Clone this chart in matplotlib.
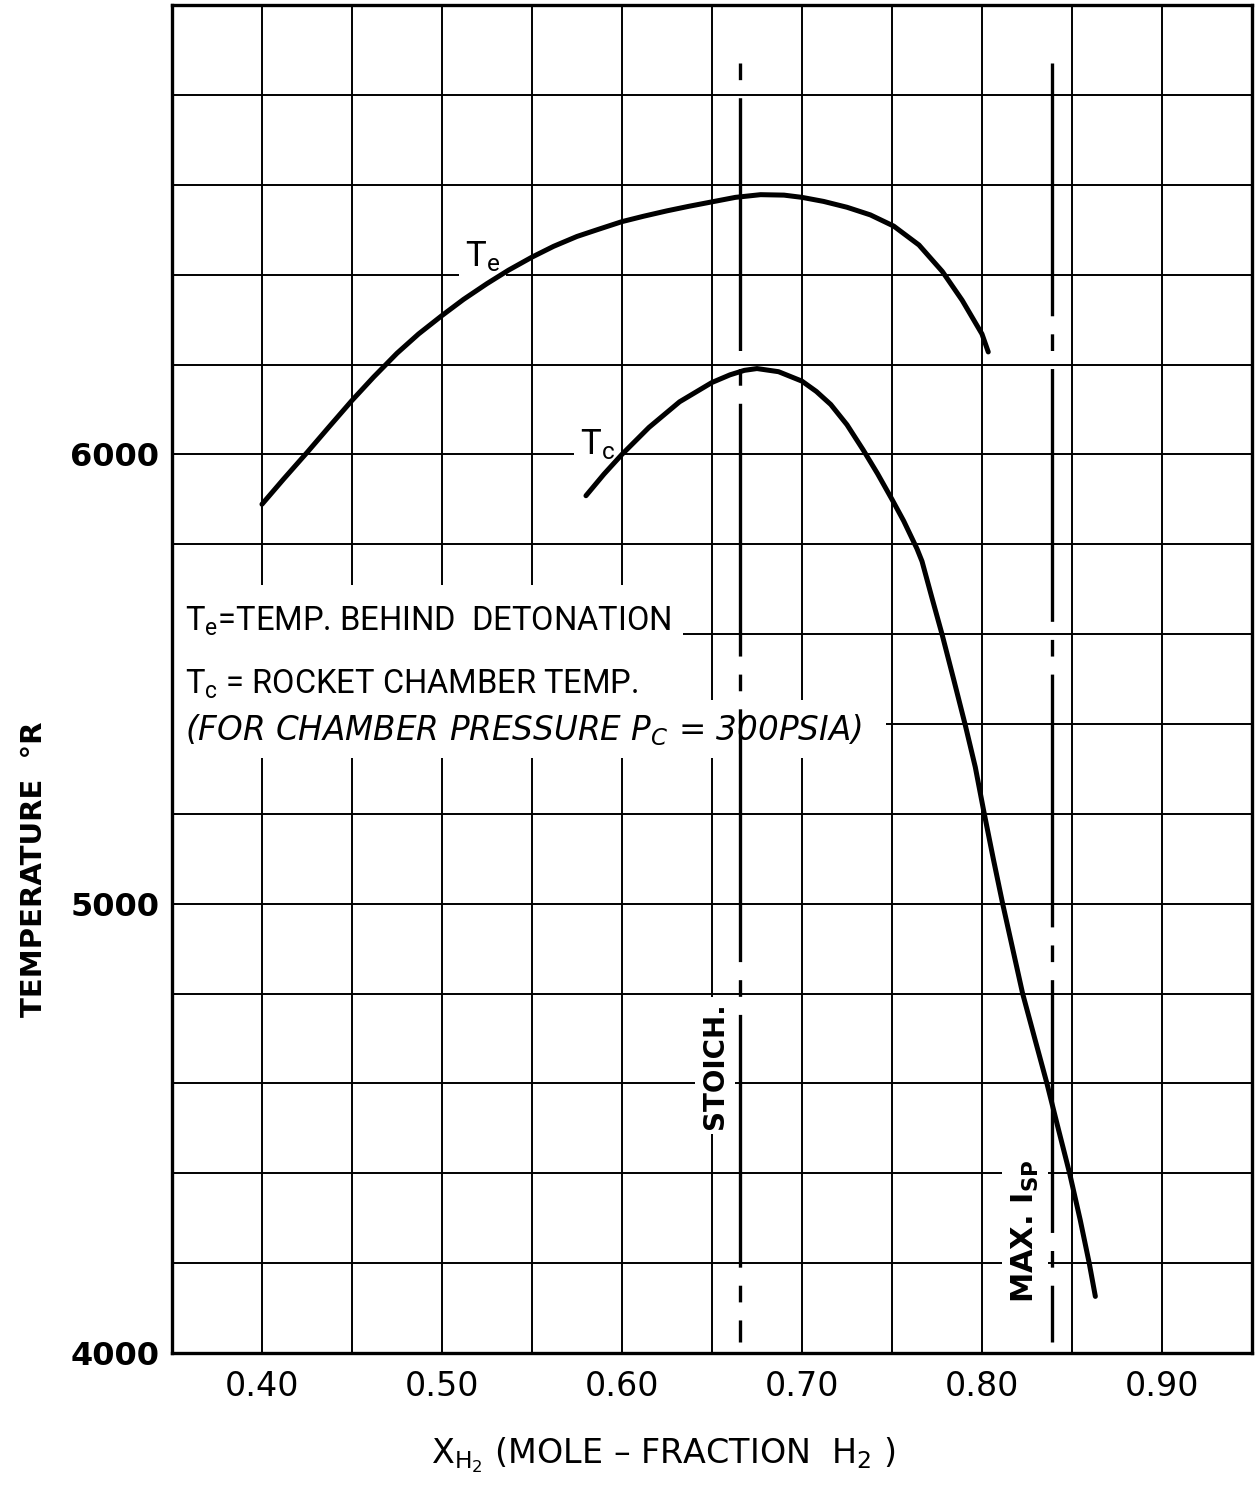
import matplotlib
matplotlib.use("Agg")
import matplotlib.pyplot as plt
from matplotlib.patches import Rectangle

plt.rcParams['mathtext.default'] = 'regular'
plt.rcParams['lines.scale_dashes'] = False

NARROW = ['Roboto', 'DejaVu Sans']
WIDE = ['DejaVu Sans']

# T_e : temperature behind detonation (deg R) vs mole fraction H2
te_x = [0.400, 0.412, 0.425, 0.437, 0.450, 0.462, 0.475, 0.487, 0.500, 0.512,
        0.525, 0.537, 0.550, 0.562, 0.575, 0.587, 0.600, 0.612, 0.625, 0.637,
        0.650, 0.663, 0.677, 0.690, 0.700, 0.712, 0.725, 0.738, 0.751, 0.765,
        0.778, 0.789, 0.800, 0.8035]
te_y = [5889, 5945, 6004, 6060, 6120, 6172, 6225, 6268, 6309, 6345,
        6380, 6410, 6439, 6463, 6485, 6501, 6518, 6530, 6542, 6552,
        6562, 6572, 6578, 6577, 6572, 6563, 6550, 6533, 6508, 6466,
        6407, 6343, 6268, 6228]

# T_c : rocket chamber temperature, Pc = 300 psia
tc_x = [0.580, 0.590, 0.600, 0.615, 0.632, 0.650, 0.660, 0.668, 0.675, 0.687,
        0.700, 0.708, 0.716, 0.725, 0.734, 0.742, 0.750, 0.7565, 0.7639, 0.7667,
        0.7722, 0.7778, 0.7843, 0.7907, 0.7963, 0.8009, 0.8063, 0.8115, 0.8226, 0.8296,
        0.8361, 0.8426, 0.8487, 0.8546, 0.8596, 0.863]
tc_y = [5908, 5956, 6000, 6060, 6117, 6160, 6177, 6187, 6191, 6184,
        6163, 6140, 6111, 6066, 6010, 5957, 5900, 5852, 5790, 5762,
        5681, 5600, 5499, 5398, 5304, 5208, 5100, 5000, 4800, 4696,
        4600, 4496, 4400, 4296, 4200, 4126]

stoich_x = 0.6656
max_isp_x = 0.839
ref_y = [6870, 4025]

x_grid = [0.35, 0.40, 0.45, 0.50, 0.55, 0.60, 0.65, 0.70, 0.75, 0.80, 0.85, 0.90, 0.95]
x_labels = ['', '0.40', '', '0.50', '', '0.60', '', '0.70', '', '0.80', '', '0.90', '']
y_grid = list(range(4000, 7001, 200))
y_labels = [str(v) if v in (4000, 5000, 6000) else '' for v in y_grid]

fig = plt.figure(figsize=(12.59, 14.87), dpi=100)
ax = fig.add_axes([0.1366, 0.0901, 0.8578, 0.9065])

ax.set_xlim(0.35, 0.95)
ax.set_ylim(4000, 7000)
ax.set_xticks(x_grid)
ax.set_xticklabels(x_labels, fontfamily=WIDE, fontsize=24)
ax.set_yticks(y_grid)
ax.set_yticklabels(y_labels, fontfamily=WIDE, fontsize=23, fontweight='bold')
ax.tick_params(length=0)
ax.tick_params(axis='x', pad=12)
ax.tick_params(axis='y', pad=9)
ax.grid(True, color='black', linewidth=1.4)
ax.set_axisbelow(True)
for s in ax.spines.values():
    s.set_linewidth(2.4)
    s.set_zorder(2.5)

# curves
ax.plot(te_x, te_y, color='black', linewidth=3.6, solid_capstyle='round',
        solid_joinstyle='round', zorder=4)
ax.plot(tc_x, tc_y, color='black', linewidth=3.6, solid_capstyle='round',
        solid_joinstyle='round', zorder=4)

# reference lines (long dash / short dash)
ax.plot([stoich_x, stoich_x], ref_y, color='black', linewidth=2.4, zorder=4,
        linestyle=(195, (182, 13, 12, 13)))
ax.plot([max_isp_x, max_isp_x], ref_y, color='black', linewidth=2.4, zorder=4,
        linestyle=(0, (182, 13, 12, 13)))

white = dict(facecolor='white', edgecolor='none')

ax.text(0.5128, 6440, 'T$_e$', fontfamily=NARROW, fontsize=25, ha='left', va='center',
        bbox=dict(white, pad=4), zorder=2)
ax.text(0.5767, 6022, 'T$_c$', fontfamily=NARROW, fontsize=25, ha='left', va='center',
        bbox=dict(white, pad=4), zorder=2)

# white areas behind the key text, breaking the grid as on the original sheet
ax.add_patch(Rectangle((0, 0.4807), 0.4731, 0.089, transform=ax.transAxes,
                       facecolor='white', edgecolor='none', zorder=1.5))
ax.add_patch(Rectangle((0, 0.4414), 0.6611, 0.043, transform=ax.transAxes,
                       facecolor='white', edgecolor='none', zorder=1.5))

ax.text(0.3572, 5629, 'T$_e$=TEMP. BEHIND  DETONATION', fontfamily=NARROW,
        fontsize=23.5, ha='left', va='center', zorder=2)
ax.text(0.3572, 5489, 'T$_c$ = ROCKET CHAMBER TEMP.', fontfamily=NARROW,
        fontsize=23.5, ha='left', va='center', zorder=2)
ax.text(0.3572, 5387, '(FOR CHAMBER PRESSURE P$_C$ = 300PSIA)', fontfamily=WIDE,
        fontsize=23.5, style='italic', ha='left', va='center', zorder=2)

ax.text(0.6517, 4640, 'STOICH.', fontfamily=WIDE, fontsize=20, fontweight='bold',
        rotation=90, ha='center', va='center', bbox=dict(white, pad=4), zorder=2)
ax.text(0.8239, 4272, 'MAX. I$_{SP}$', fontfamily=WIDE, fontsize=22, fontweight='bold',
        rotation=90, ha='center', va='center', bbox=dict(white, pad=5), zorder=2)

fig.text(0.027, 0.4156, 'TEMPERATURE  °R', fontfamily=WIDE, fontsize=21,
         fontweight='bold', rotation=90, ha='center', va='center')
fig.text(0.5266, 0.0161, 'X$_{H_2}$ (MOLE – FRACTION  H$_2$ )', fontfamily=WIDE,
         fontsize=24, ha='center', va='baseline')

fig.savefig('out.png', dpi=100, facecolor='white')
